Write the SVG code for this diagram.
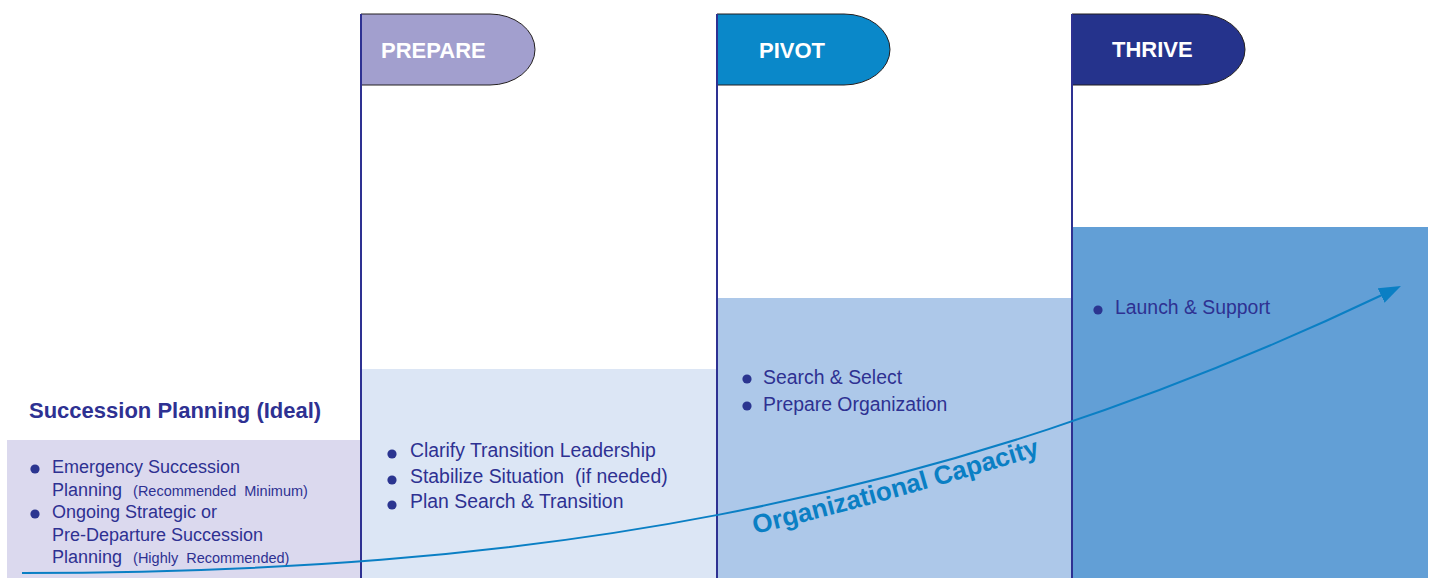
<svg xmlns="http://www.w3.org/2000/svg" width="1430" height="578" viewBox="0 0 1430 578">
<style>
.t{font-family:"Liberation Sans",Arial,sans-serif;fill:#2e3192}
.b18{font-size:18px}
.b19{font-size:19.4px}
.sm{font-size:14.5px}
.flagtxt{font-family:"Liberation Sans",Arial,sans-serif;font-size:22px;font-weight:bold;fill:#ffffff}
.pole{stroke:#2e3192;stroke-width:2}
.flag{stroke:#231f20;stroke-width:1}
.dot{fill:#2b3590}
</style>
<defs>
<marker id="ah" markerUnits="userSpaceOnUse" markerWidth="24" markerHeight="18" refX="1" refY="8" orient="auto">
<path d="M0,0 L22,8 L0,16 Z" fill="#0a7fc4"/>
</marker>
<path id="ocPath" d="M755,534 Q895,500 1050,452" fill="none"/>
</defs>
<rect width="1430" height="578" fill="#ffffff"/>

<g id="ideal">
<rect x="7" y="440" width="354" height="138" fill="#dbd9ee"/>
<text class="t" x="29" y="418" font-size="22" font-weight="bold">Succession Planning (Ideal)</text>
<circle class="dot" cx="35" cy="469" r="4.6"/>
<text class="t b18" x="52" y="473">Emergency Succession</text>
<text class="t b18" x="52" y="496">Planning <tspan class="sm" dx="6" xml:space="preserve">(Recommended  Minimum)</tspan></text>
<circle class="dot" cx="35" cy="514" r="4.6"/>
<text class="t b18" x="52" y="518">Ongoing Strategic or</text>
<text class="t b18" x="52" y="541">Pre-Departure Succession</text>
<text class="t b18" x="52" y="563">Planning <tspan class="sm" dx="6" xml:space="preserve">(Highly  Recommended)</tspan></text>
</g>

<g id="prepare">
<rect x="361" y="369" width="356" height="209" fill="#dce6f5"/>
<path class="flag" d="M361,14 H490 A45,35.5 0 0 1 490,85 H361 Z" fill="#a29fce"/>
<line class="pole" x1="361" y1="14" x2="361" y2="578"/>
<text class="flagtxt" x="381" y="58">PREPARE</text>
<circle class="dot" cx="392" cy="454" r="4.6"/>
<text class="t b19" x="410" y="457">Clarify Transition Leadership</text>
<circle class="dot" cx="392" cy="480" r="4.6"/>
<text class="t b19" x="410" y="483" xml:space="preserve">Stabilize Situation  (if needed)</text>
<circle class="dot" cx="392" cy="505" r="4.6"/>
<text class="t b19" x="410" y="508">Plan Search &amp; Transition</text>
</g>

<g id="pivot">
<rect x="717" y="298" width="355" height="280" fill="#adc8e9"/>
<path class="flag" d="M717,14 H844 A46,35.5 0 0 1 844,85 H717 Z" fill="#0a88c9"/>
<line class="pole" x1="717" y1="14" x2="717" y2="578"/>
<text class="flagtxt" x="759" y="58">PIVOT</text>
<circle class="dot" cx="747" cy="379" r="4.6"/>
<text class="t b19" x="763" y="384">Search &amp; Select</text>
<circle class="dot" cx="747" cy="406" r="4.6"/>
<text class="t b19" x="763" y="411">Prepare Organization</text>
</g>

<g id="thrive">
<rect x="1072" y="227" width="356" height="351" fill="#629fd6"/>
<path class="flag" d="M1072,14 H1199 A46,35.5 0 0 1 1199,85 H1072 Z" fill="#25338c"/>
<line class="pole" x1="1072" y1="14" x2="1072" y2="578"/>
<text class="flagtxt" x="1112" y="57">THRIVE</text>
<circle class="dot" cx="1098" cy="310" r="4.6"/>
<text class="t b19" x="1115" y="314">Launch &amp; Support</text>
</g>

<g id="connectors">
<path d="M22,573 C520,573 930,510 1382,295" fill="none" stroke="#0a7fc4" stroke-width="2" marker-end="url(#ah)"/>
<text font-family="'Liberation Sans',Arial,sans-serif" font-size="26" font-weight="bold" fill="#0a7fc4"><textPath href="#ocPath">Organizational Capacity</textPath></text>
</g>
</svg>
